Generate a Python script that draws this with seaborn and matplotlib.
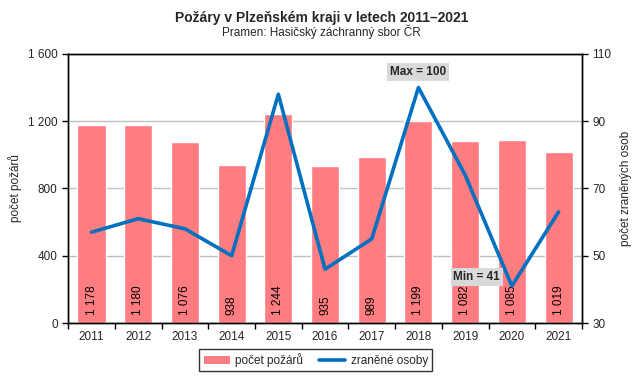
import matplotlib
matplotlib.use("Agg")
import matplotlib.pyplot as plt
import matplotlib.ticker as mticker
from matplotlib.patches import Patch
from matplotlib.lines import Line2D
import seaborn as sns
import numpy as np
import pandas as pd

# Data
years = ['2011', '2012', '2013', '2014', '2015', '2016', '2017', '2018', '2019', '2020', '2021']
fires = [1178, 1180, 1076, 938, 1244, 935, 989, 1199, 1082, 1085, 1019]
injured = [57, 61, 58, 50, 98, 46, 55, 100, 74, 41, 63]

bar_color = '#FF7C80'
line_color = '#0070C0'

sns.set_theme(style="white")
plt.rcParams['font.family'] = ['Liberation Sans', 'DejaVu Sans']

df = pd.DataFrame({'year': years, 'fires': fires, 'injured': injured})

fig = plt.figure(figsize=(6.43, 3.78), dpi=100)
ax = fig.add_axes([0.106, 0.1455, 0.799, 0.712])

sns.barplot(data=df, x='year', y='fires', color=bar_color, saturation=1,
            width=0.6, ax=ax, zorder=2)
ax.set_ylim(0, 1600)
ax.set_yticks([0, 400, 800, 1200, 1600])
ax.yaxis.set_major_formatter(mticker.FuncFormatter(lambda v, p: f"{int(v):,}".replace(',', ' ')))
ax.yaxis.grid(True, color='#C0C0C0', linewidth=1)
ax.set_axisbelow(True)
ax.set_xlim(-0.5, len(years) - 0.5)
ax.set_xlabel('')
ax.set_ylabel('počet požárů', fontsize=8.5, labelpad=4)

# ticks between categories
ax.set_xticks(np.arange(-0.5, len(years), 1), minor=True)
ax.tick_params(axis='x', which='major', length=0, labelsize=8.5, pad=6)
ax.tick_params(axis='x', which='minor', length=4, width=1, color='black', direction='out', bottom=True)
ax.tick_params(axis='y', length=4, width=1, color='black', direction='out', left=True, labelsize=8.5)

for s in ax.spines.values():
    s.set_color('black')
    s.set_linewidth(1)

# bar labels
for i, v in enumerate(fires):
    ax.text(i, 50, f"{v:,}".replace(',', ' '), rotation=90, ha='center', va='bottom',
            fontsize=8.5, color='black', zorder=3)

ax2 = ax.twinx()
sns.lineplot(x=np.arange(len(years)), y=injured, color=line_color, linewidth=2.6, ax=ax2)
ax2.set_ylim(30, 110)
ax2.set_yticks([30, 50, 70, 90, 110])
ax2.set_xlim(-0.5, len(years) - 0.5)
ax2.tick_params(axis='y', length=4, width=1, color='black', direction='out', right=True, labelsize=8.5)
ax2.set_ylabel('počet zraněných osob', fontsize=8.5, labelpad=6)
for s in ax2.spines.values():
    s.set_color('black')
    s.set_linewidth(1)

# min / max annotations
imax = int(np.argmax(injured))
imin = int(np.argmin(injured))
box = dict(boxstyle='square,pad=0.25', facecolor='#D9D9D9', edgecolor='none')
ax2.text(imax, 104.6, f"Max = {injured[imax]}", ha='center', va='center',
         fontsize=8.5, fontweight='bold', bbox=box)
ax2.text(imin - 0.75, 43.6, f"Min = {injured[imin]}", ha='center', va='center',
         fontsize=8.5, fontweight='bold', bbox=box)

fig.text(0.5, 0.952, 'Požáry v Plzeňském kraji v letech 2011–2021', ha='center', va='center',
         fontsize=10, fontweight='bold')
fig.text(0.5, 0.917, 'Pramen: Hasičský záchranný sbor ČR', ha='center', va='center', fontsize=8.5)

handles = [Patch(facecolor=bar_color, edgecolor='none'),
           Line2D([0], [0], color=line_color, linewidth=2.6)]
leg = fig.legend(handles, ['počet požárů', 'zraněné osoby'], loc='center',
                 bbox_to_anchor=(0.491, 0.048), ncol=2, fontsize=8.5, frameon=True,
                 fancybox=False, edgecolor='black', handlelength=2.2, handletextpad=0.5,
                 columnspacing=1.3, borderpad=0.35)
leg.get_frame().set_linewidth(1)

fig.savefig('out.png', dpi=100)
